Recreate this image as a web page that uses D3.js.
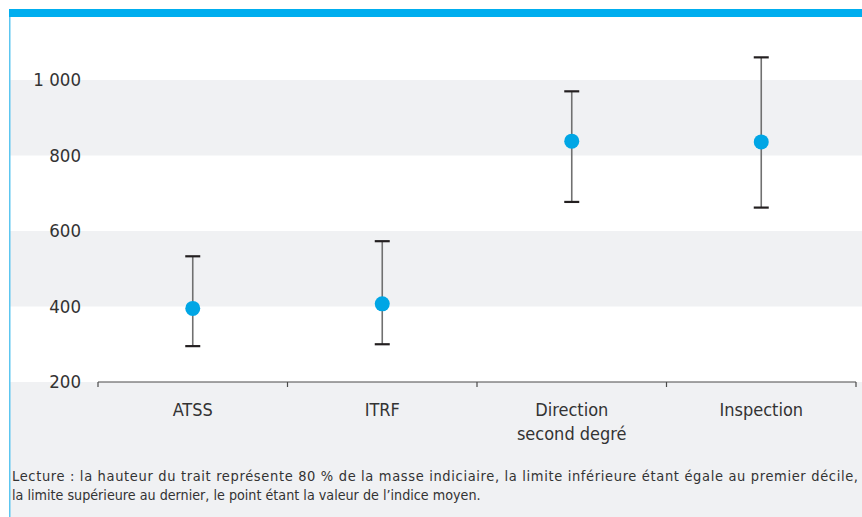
<!DOCTYPE html>
<html>
<head>
<meta charset="utf-8">
<script src="https://cdn.jsdelivr.net/npm/d3@7"></script>
<style>
  html, body { margin: 0; padding: 0; background: #ffffff; }
  svg { display: block; }
  text { font-family: "Liberation Sans Narrow", "DejaVu Sans Condensed", "Roboto Condensed", sans-serif; fill: #333333; }
</style>
</head>
<body>
<svg id="chart" width="862" height="517"></svg>
<script>
// ---- data ----
const categories = [["ATSS"], ["ITRF"], ["Direction", "second degré"], ["Inspection"]];
const lowValues  = [295, 300, 677, 662];
const meanValues = [395, 407, 838, 836];
const highValues = [533, 573, 970, 1060];
const yTicks = [200, 400, 600, 800, 1000];
const yTickLabels = ["200", "400", "600", "800", "1 000"];
const shadedBands = [[800, 1000], [400, 600]];
const noteLines = [
  "Lecture : la hauteur du trait représente 80 % de la masse indiciaire, la limite inférieure étant égale au premier décile,",
  "la limite supérieure au dernier, le point étant la valeur de l’indice moyen."
];

const W = 862, H = 517;
const svg = d3.select("#chart");

const keys = categories.map(c => c.join(" "));
const x = d3.scaleBand().domain(keys).range([98, 856]).paddingInner(0).paddingOuter(0);
const y = d3.scaleLinear().domain([200, 1000]).range([382, 80]);

const frameLeft = 9;

// shaded bands
svg.selectAll("rect.band").data(shadedBands).enter().append("rect")
  .attr("class", "band")
  .attr("x", frameLeft).attr("width", W - frameLeft)
  .attr("y", d => y(d[1])).attr("height", d => y(d[0]) - y(d[1]))
  .attr("fill", "#f0f1f3");
// bottom shaded area (below axis)
svg.append("rect")
  .attr("x", frameLeft).attr("width", W - frameLeft)
  .attr("y", y(200)).attr("height", H - y(200))
  .attr("fill", "#f0f1f3");

// top blue bar and left rule
svg.append("rect").attr("x", frameLeft).attr("y", 9).attr("width", W - frameLeft).attr("height", 8).attr("fill", "#00aeef");
svg.append("rect").attr("x", frameLeft).attr("y", 17).attr("width", 1.5).attr("height", H - 17).attr("fill", "#5cc6f0");

// y labels
svg.selectAll("text.ylab").data(yTicks).enter().append("text")
  .attr("class", "ylab")
  .attr("x", 81).attr("y", d => y(d))
  .attr("dy", "0.35em")
  .attr("text-anchor", "end")
  .attr("font-size", 18.5)
  .text((d, i) => yTickLabels[i]);

// x axis
const edges = keys.map(k => x(k)).concat([x.range()[1]]);
const axisG = svg.append("g");
axisG.append("line").attr("x1", x.range()[0]).attr("x2", x.range()[1])
  .attr("y1", y(200)).attr("y2", y(200)).attr("stroke", "#4a4a4a").attr("stroke-width", 1.2);
axisG.selectAll("line.tick").data(edges).enter().append("line")
  .attr("class", "tick")
  .attr("x1", d => d).attr("x2", d => d)
  .attr("y1", y(200)).attr("y2", y(200) + 5)
  .attr("stroke", "#4a4a4a").attr("stroke-width", 1.2);

// x labels
categories.forEach((lines, i) => {
  const cx = x(keys[i]) + x.bandwidth() / 2;
  const t = svg.append("text").attr("text-anchor", "middle").attr("font-size", 18);
  lines.forEach((ln, j) => {
    t.append("tspan").attr("x", cx).attr("y", 416 + j * 24).text(ln);
  });
});

// error bars
const capW = 15;
keys.forEach((k, i) => {
  const cx = x(k) + x.bandwidth() / 2;
  svg.append("line").attr("x1", cx).attr("x2", cx)
    .attr("y1", y(highValues[i])).attr("y2", y(lowValues[i]))
    .attr("stroke", "#707070").attr("stroke-width", 1.6);
  [highValues[i], lowValues[i]].forEach(v => {
    svg.append("line").attr("x1", cx - capW / 2).attr("x2", cx + capW / 2)
      .attr("y1", y(v)).attr("y2", y(v))
      .attr("stroke", "#231f20").attr("stroke-width", 2.2);
  });
  svg.append("circle").attr("cx", cx).attr("cy", y(meanValues[i])).attr("r", 7.5).attr("fill", "#00a6e5");
});

// note text
svg.append("text").attr("x", 12).attr("y", 481).attr("font-size", 14.5)
  .attr("textLength", 846).attr("lengthAdjust", "spacing")
  .text(noteLines[0]);
svg.append("text").attr("x", 12).attr("y", 500).attr("font-size", 14.2)
  .text(noteLines[1]);
</script>
</body>
</html>
